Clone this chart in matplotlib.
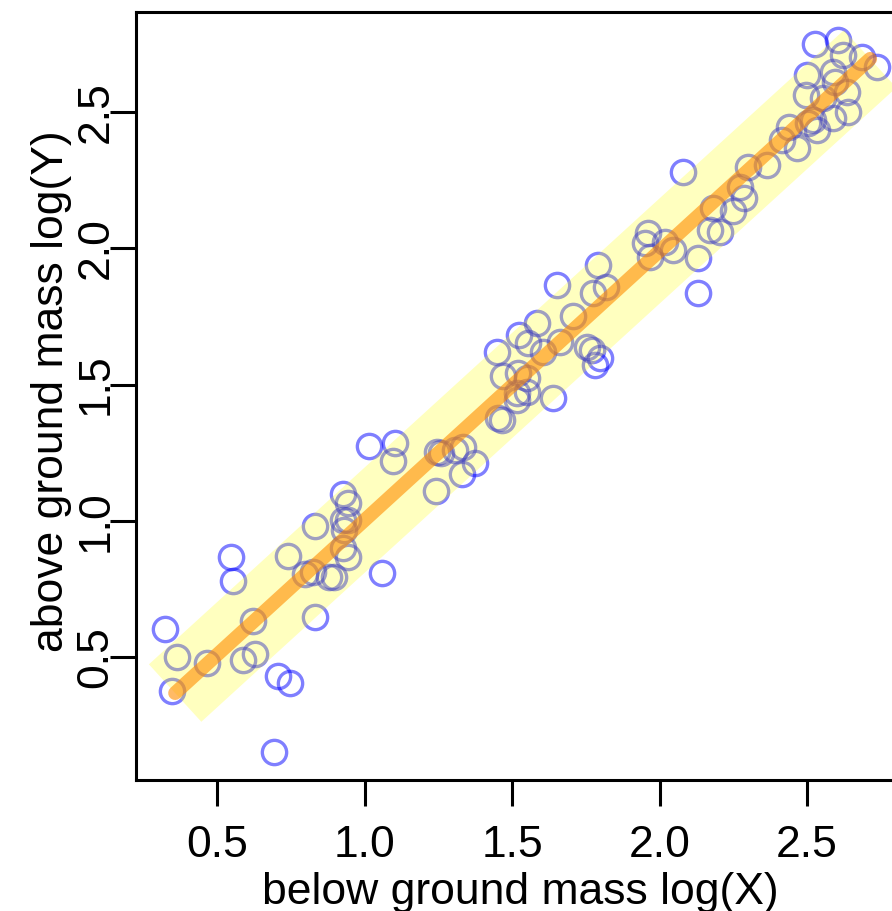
import numpy as np
import matplotlib
matplotlib.use('Agg')
import matplotlib.pyplot as plt

plt.rcParams['font.family'] = ['Liberation Sans', 'DejaVu Sans']

# --- data (log10 masses) ---
below_x = [0.324, 0.364, 0.347, 0.466, 0.547, 0.554, 0.622, 0.588, 0.629, 0.707,
           0.748, 0.693, 0.832, 0.741, 0.832, 0.798, 0.825, 0.880, 0.897, 1.059,
           0.927, 0.944, 0.927, 0.944, 0.931, 0.927, 0.944, 1.015, 1.103, 1.097,
           1.246, 1.259, 1.307, 1.334, 1.330, 1.375, 1.242, 1.453, 1.466, 1.470,
           1.449, 1.520, 1.551, 1.517, 1.551, 1.517, 1.639, 1.524, 1.554, 1.585,
           1.605, 1.663, 1.707, 1.653, 1.754, 1.771, 1.798, 1.781, 1.792, 1.775,
           1.819, 1.951, 1.961, 1.968, 2.019, 2.046, 2.080, 2.131, 2.131, 2.171,
           2.205, 2.181, 2.249, 2.273, 2.286, 2.300, 2.364, 2.415, 2.466, 2.439,
           2.503, 2.520, 2.534, 2.588, 2.639, 2.497, 2.554, 2.636, 2.500, 2.588,
           2.595, 2.527, 2.605, 2.622, 2.686, 2.737]
above_y = [0.603, 0.500, 0.375, 0.478, 0.867, 0.779, 0.632, 0.489, 0.511, 0.430,
           0.405, 0.151, 0.647, 0.871, 0.981, 0.805, 0.812, 0.794, 0.794, 0.808,
           1.098, 1.065, 1.003, 1.003, 0.966, 0.900, 0.867, 1.274, 1.285, 1.219,
           1.252, 1.249, 1.260, 1.271, 1.172, 1.212, 1.109, 1.377, 1.370, 1.531,
           1.619, 1.542, 1.524, 1.469, 1.472, 1.443, 1.450, 1.682, 1.652, 1.726,
           1.619, 1.656, 1.751, 1.865, 1.638, 1.627, 1.597, 1.572, 1.939, 1.836,
           1.858, 2.019, 2.056, 1.968, 2.023, 1.994, 2.280, 1.964, 1.836, 2.067,
           2.060, 2.148, 2.137, 2.225, 2.184, 2.298, 2.306, 2.397, 2.368, 2.445,
           2.460, 2.471, 2.434, 2.478, 2.500, 2.562, 2.551, 2.573, 2.636, 2.647,
           2.610, 2.750, 2.764, 2.709, 2.702, 2.665]

# fitted line end points
fit_x = [0.358, 2.714]
fit_y = [0.368, 2.695]

ticks = [0.5, 1.0, 1.5, 2.0, 2.5]
tick_labels = ['0.5', '1.0', '1.5', '2.0', '2.5']

W, H = 892, 911
fig = plt.figure(figsize=(W / 100, H / 100), dpi=100)
ax = fig.add_axes([136 / W, (H - 780) / H, 770 / W, 768 / H])

# points, then the pale band, then the fitted line
ax.plot(below_x, above_y, 'o', ms=17.5, mfc='none', mec=(0, 0, 1, 0.5), mew=2.4,
        zorder=2)
ax.plot(fit_x, fit_y, color=(1, 1, 0, 0.25), lw=56, solid_capstyle='butt', zorder=3)
ax.plot(fit_x, fit_y, color=(1, 0.55, 0, 0.6), lw=10, solid_capstyle='round', zorder=4)

ax.set_xlim(0.2254, 2.8356)
ax.set_ylim(0.049, 2.867)

for s in ax.spines.values():
    s.set_linewidth(2.2)

ax.set_xticks(ticks, tick_labels, fontsize=32)
ax.set_yticks(ticks, tick_labels, fontsize=32, rotation=90, rotation_mode='anchor',
              ha='center', va='baseline')
ax.tick_params(axis='both', direction='out', length=18.7, width=2.2)
ax.tick_params(axis='x', pad=13.5)
ax.tick_params(axis='y', pad=2)

fig.text(520 / W, (H - 904) / H, 'below ground mass log(X)', fontsize=32,
         ha='center', va='baseline')
fig.text(63 / W, (H - 391) / H, 'above ground mass log(Y)', fontsize=32,
         rotation=90, rotation_mode='anchor', ha='center', va='baseline')

fig.savefig('out.png', dpi=100)
